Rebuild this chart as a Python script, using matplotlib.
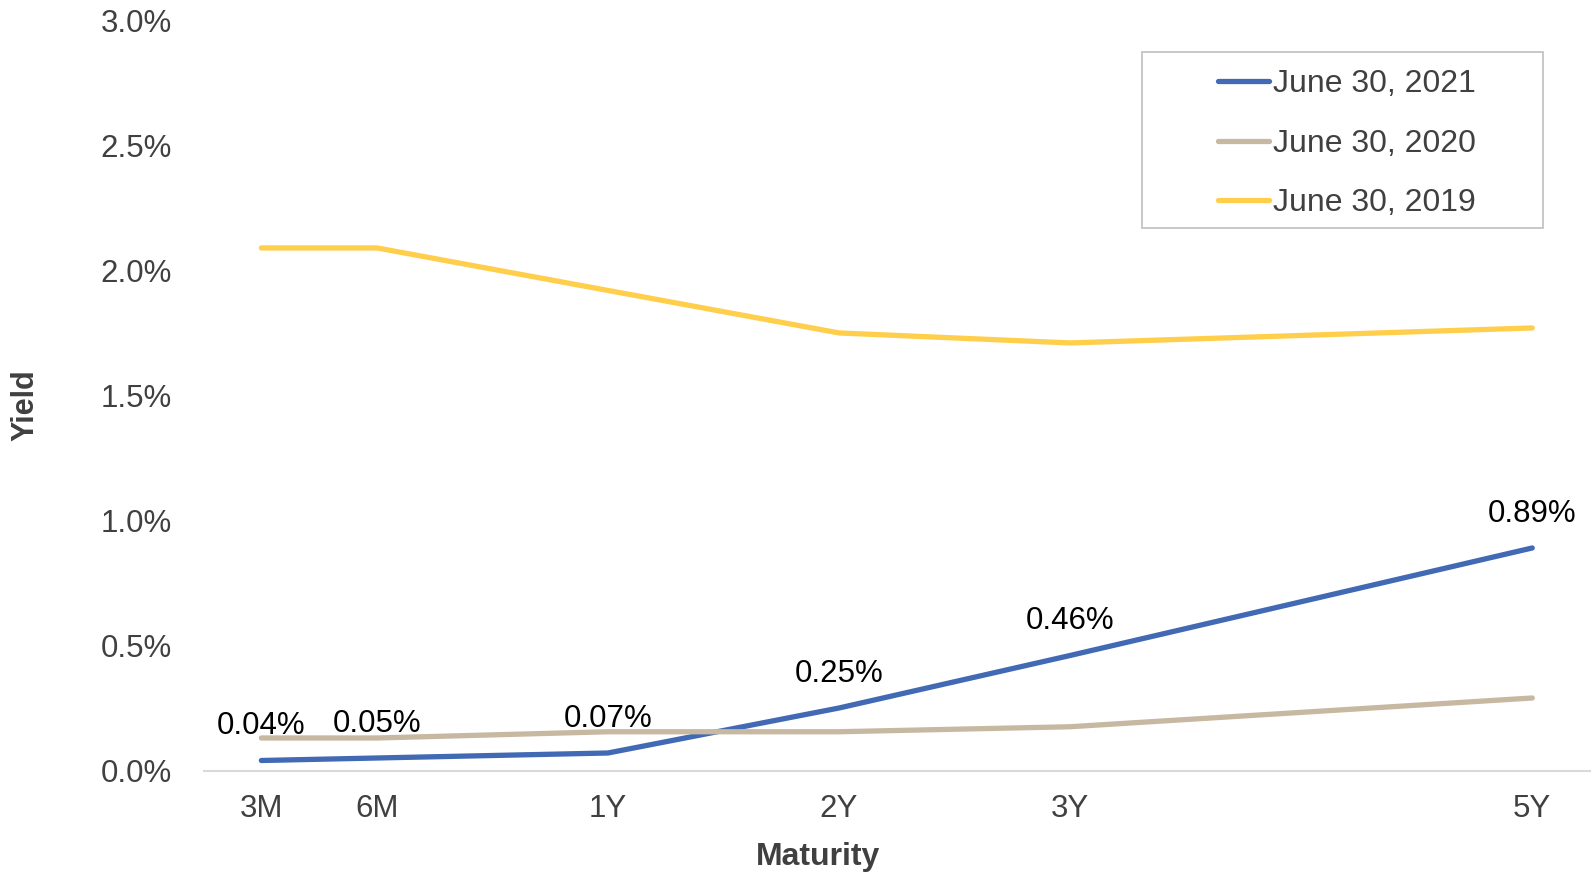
import numpy as np
import matplotlib
matplotlib.use("Agg")
import matplotlib.pyplot as plt
from matplotlib.lines import Line2D
from matplotlib.patches import Rectangle
from matplotlib.ticker import FuncFormatter

plt.rcParams["font.family"] = ["Liberation Sans", "DejaVu Sans"]

# Maturities sit on a 12-slot category axis (blank slots between some labels)
maturities = ["3M", "6M", "1Y", "2Y", "3Y", "5Y"]
slots = [0, 1, 3, 5, 7, 11]
n_slots = 12

yield_2021 = [0.04, 0.05, 0.07, 0.25, 0.46, 0.89]
yield_2020 = [0.13, 0.13, 0.155, 0.155, 0.175, 0.29]
yield_2019 = [2.09, 2.09, 1.92, 1.75, 1.71, 1.77]

series_names = ["June 30, 2021", "June 30, 2020", "June 30, 2019"]
series_colors = ["#4169B4", "#C7B8A2", "#FFCE4B"]

W, H = 1596, 874
fig = plt.figure(figsize=(W / 100, H / 100), dpi=100)

left, right, top, bottom = 203.6, 1590.0, 20.4, 770.5
ax = fig.add_axes([left / W, 1 - bottom / H, (right - left) / W, (bottom - top) / H])

lw = 3.8
for vals, color in zip([yield_2021, yield_2020, yield_2019], series_colors):
    ax.plot(slots, vals, color=color, lw=lw, solid_capstyle="round",
            solid_joinstyle="round", zorder=3)

# value labels on the 2021 curve
for x, v in zip(slots, yield_2021):
    ax.annotate(f"{v:.2f}%", (x, v), xytext=(0, 19), textcoords="offset points",
                ha="center", va="baseline", fontsize=22.5, color="black", zorder=4)

ax.set_xlim(-0.5, n_slots - 0.5)
ax.set_ylim(0, 3.0)
ax.set_xticks(slots)
ax.set_xticklabels(maturities)
ax.set_yticks(np.arange(0, 3.01, 0.5))
ax.yaxis.set_major_formatter(FuncFormatter(lambda v, p: f"{v:.1f}%"))

ax.tick_params(axis="y", length=0, pad=23, labelsize=22.5, labelcolor="#404040")
ax.tick_params(axis="x", length=0, pad=17, labelsize=22.5, labelcolor="#404040")

for s in ["top", "right", "left"]:
    ax.spines[s].set_visible(False)
ax.spines["bottom"].set_color("#D9D9D9")
ax.spines["bottom"].set_linewidth(1.5)
ax.set_facecolor("none")

fig.text(818 / W, 1 - 865 / H, "Maturity", ha="center", va="baseline",
         fontsize=23, fontweight="bold", color="#404040")
fig.text(25 / W, 1 - 405 / H, "Yield", ha="center", va="center", rotation=90,
         fontsize=22, fontweight="bold", color="#404040")

# legend box and entries
fig.add_artist(Rectangle((1141.7 / W, 1 - 228.3 / H), (1542.7 - 1141.7) / W,
                         (228.3 - 51.7) / H, transform=fig.transFigure,
                         facecolor="white", edgecolor="#BFBFBF", lw=1.2, zorder=5))
handles = [Line2D([], [], color=c, lw=lw, solid_capstyle="round") for c in series_colors]
leg = fig.legend(handles, series_names, loc="upper left",
                 bbox_to_anchor=(1218 / W, 1 - 69 / H), frameon=False,
                 borderpad=0, borderaxespad=0, handlelength=1.6, handletextpad=0.12,
                 labelspacing=0.93, fontsize=23, labelcolor="#404040")
leg.set_zorder(6)

fig.savefig("out.png", dpi=100, facecolor="white")
